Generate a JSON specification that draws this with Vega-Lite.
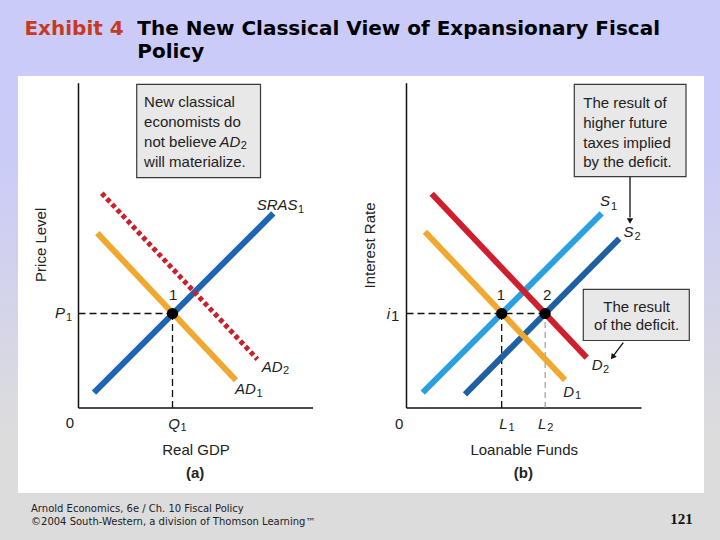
{
  "$schema": "https://vega.github.io/schema/vega-lite/v6.json",
  "width": 720,
  "height": 540,
  "autosize": {"type": "fit", "contains": "padding"},
  "padding": 0,
  "background": "#dcdcdc",
  "config": {"view": {"stroke": null}, "text": {"font": "Liberation Sans", "color": "#222222", "fontSize": 15, "baseline": "middle"}},
  "resolve": {"scale": {"x": "independent", "color": "independent"}},
  "layer": [
    {
      "encoding": {
        "x": {"field": "x", "type": "quantitative", "axis": null, "scale": {"domain": [-3.3404, 27.2979], "nice": false, "zero": false}},
        "y": {"field": "y", "type": "quantitative", "axis": null, "scale": {"domain": [-4.1905, 12.9524], "nice": false, "zero": false}}
      },
      "layer": [
        {
          "data": {"values": [{"x": -3.3404, "x2": 27.2979, "y": -4.1905, "y2": 12.9524}]},
          "mark": {"type": "rect", "fill": {"gradient": "linear", "x1": 0, "y1": 0, "x2": 0, "y2": 1, "stops": [{"offset": 0, "color": "#cbcbfa"}, {"offset": 0.3, "color": "#cbcbf8"}, {"offset": 0.8, "color": "#dcdcdc"}, {"offset": 1, "color": "#dcdcdc"}]}},
          "encoding": {"x2": {"field": "x2"}, "y2": {"field": "y2"}}
        },
        {
          "data": {"values": [{"x": -2.574, "x2": 26.617, "y": -2.698, "y2": 10.54}]},
          "mark": {"type": "rect", "fill": "#ffffff"},
          "encoding": {"x2": {"field": "x2"}, "y2": {"field": "y2"}}
        },
        {
          "data": {"values": [{"x": 2.477, "x2": 7.745, "y": 7.311, "y2": 10.276}]},
          "mark": {"type": "rect", "fill": "#e8e8e8", "stroke": "#3a3a3a", "strokeWidth": 1.2},
          "encoding": {"x2": {"field": "x2"}, "y2": {"field": "y2"}}
        },
        {
          "data": {"values": [{"x": 0, "y": 0, "x2": 0, "y2": 10.31}, {"x": 0, "y": 0, "x2": 9.98, "y2": 0}]},
          "mark": {"type": "rule", "color": "#111111", "strokeWidth": 1.5},
          "encoding": {"x2": {"field": "x2"}, "y2": {"field": "y2"}}
        },
        {
          "data": {"values": [{"x": 0, "y": 3, "x2": 4, "y2": 3}, {"x": 4, "y": 0, "x2": 4, "y2": 3}]},
          "mark": {"type": "rule", "color": "#111111", "strokeWidth": 1.3, "strokeDash": [7, 4]},
          "encoding": {"x2": {"field": "x2"}, "y2": {"field": "y2"}}
        },
        {
          "data": {"values": [{"curve": "SRAS1", "x": 0.66, "y": 0.49, "x2": 8.29, "y2": 6.18}, {"curve": "AD1", "x": 0.8, "y": 5.55, "x2": 6.7, "y2": 0.88}]},
          "mark": {"type": "rule", "strokeWidth": 6, "strokeCap": "butt"},
          "encoding": {"x2": {"field": "x2"}, "y2": {"field": "y2"}, "color": {"field": "curve", "type": "nominal", "legend": null, "scale": {"domain": ["SRAS1", "AD1"], "range": ["#1f66b0", "#f0a830"]}}}
        },
        {
          "data": {"values": [{"curve": "AD2", "x": 0.99, "y": 6.82, "x2": 7.61, "y2": 1.55}]},
          "mark": {"type": "rule", "strokeWidth": 5, "strokeDash": [4.5, 3], "color": "#c8202c", "strokeCap": "butt"},
          "encoding": {"x2": {"field": "x2"}, "y2": {"field": "y2"}}
        },
        {
          "data": {"values": [{"x": 4, "y": 3}]},
          "mark": {"type": "circle", "size": 125, "color": "#000000", "opacity": 1}
        },
        {
          "data": {"values": [{"t": "1", "x": 4.03, "y": 3.59}, {"t": "0", "x": -0.36, "y": -0.49}, {"t": "Real GDP", "x": 5.0, "y": -1.33}]},
          "mark": {"type": "text", "align": "center"},
          "encoding": {"text": {"field": "t"}}
        },
        {
          "data": {"values": [{"t": "(a)", "x": 4.96, "y": -2.05}]},
          "mark": {"type": "text", "align": "center", "fontWeight": "bold"},
          "encoding": {"text": {"field": "t"}}
        },
        {
          "data": {"values": [{"t": "Price Level", "x": -1.6, "y": 5.18}]},
          "mark": {"type": "text", "align": "center", "angle": 270},
          "encoding": {"text": {"field": "t"}}
        },
        {
          "data": {"values": [{"t": "P", "x": -1.0, "y": 3.02}, {"t": "Q", "x": 3.82, "y": -0.51}, {"t": "SRAS", "x": 7.58, "y": 6.44}, {"t": "AD", "x": 7.8, "y": 1.31}, {"t": "AD", "x": 6.66, "y": 0.59}, {"t": "AD", "x": 6.0, "y": 8.45}]},
          "mark": {"type": "text", "align": "left", "fontStyle": "italic"},
          "encoding": {"text": {"field": "t"}}
        },
        {
          "data": {"values": [{"t": "1", "x": -0.53, "y": 2.86}, {"t": "1", "x": 4.34, "y": -0.64}, {"t": "1", "x": 9.34, "y": 6.29}, {"t": "2", "x": 8.7, "y": 1.18}, {"t": "1", "x": 7.57, "y": 0.44}, {"t": "2", "x": 6.9, "y": 8.32}]},
          "mark": {"type": "text", "align": "left", "fontSize": 11},
          "encoding": {"text": {"field": "t"}}
        },
        {
          "data": {"values": [{"t": "New classical", "x": 2.79, "y": 9.71}, {"t": "economists do", "x": 2.79, "y": 9.07}, {"t": "not believe", "x": 2.79, "y": 8.45}, {"t": "will materialize.", "x": 2.79, "y": 7.82}]},
          "mark": {"type": "text", "align": "left"},
          "encoding": {"text": {"field": "t"}}
        },
        {
          "data": {"values": [{"t": "Exhibit 4", "x": -2.3, "y": 11.84}]},
          "mark": {"type": "text", "align": "left", "baseline": "alphabetic", "font": "DejaVu Sans", "fontWeight": "bold", "fontSize": 20, "color": "#c63a1f"},
          "encoding": {"text": {"field": "t"}}
        },
        {
          "data": {"values": [{"t": "The New Classical View of Expansionary Fiscal", "x": 2.5, "y": 11.84}, {"t": "Policy", "x": 2.5, "y": 11.1}]},
          "mark": {"type": "text", "align": "left", "baseline": "alphabetic", "font": "DejaVu Sans", "fontWeight": "bold", "fontSize": 20, "color": "#000000"},
          "encoding": {"text": {"field": "t"}}
        },
        {
          "data": {"values": [{"t": "Arnold Economics, 6e / Ch. 10 Fiscal Policy", "x": -2.02, "y": -3.31}, {"t": "©2004 South-Western, a division of Thomson Learning™", "x": -2.02, "y": -3.71}]},
          "mark": {"type": "text", "align": "left", "baseline": "alphabetic", "font": "DejaVu Sans", "fontSize": 10, "color": "#222222"},
          "encoding": {"text": {"field": "t"}}
        },
        {
          "data": {"values": [{"t": "121", "x": 26.14, "y": -3.69}]},
          "mark": {"type": "text", "align": "right", "baseline": "alphabetic", "font": "Liberation Serif", "fontWeight": "bold", "fontSize": 15, "color": "#111111"},
          "encoding": {"text": {"field": "t"}}
        }
      ]
    },
    {
      "encoding": {
        "x": {"field": "x", "type": "quantitative", "axis": null, "scale": {"domain": [-17.2979, 13.3404], "nice": false, "zero": false}},
        "y": {"field": "y", "type": "quantitative", "axis": null, "scale": {"domain": [-4.1905, 12.9524], "nice": false, "zero": false}}
      },
      "layer": [
        {
          "data": {"values": [{"x": 7.14, "x2": 11.894, "y": 7.343, "y2": 10.276}, {"x": 7.523, "x2": 12.034, "y": 2.143, "y2": 3.768}]},
          "mark": {"type": "rect", "fill": "#e8e8e8", "stroke": "#3a3a3a", "strokeWidth": 1.2},
          "encoding": {"x2": {"field": "x2"}, "y2": {"field": "y2"}}
        },
        {
          "data": {"values": [{"x": 0, "y": 0, "x2": 0, "y2": 10.31}, {"x": 0, "y": 0, "x2": 10.0, "y2": 0}]},
          "mark": {"type": "rule", "color": "#111111", "strokeWidth": 1.5},
          "encoding": {"x2": {"field": "x2"}, "y2": {"field": "y2"}}
        },
        {
          "data": {"values": [{"x": 0, "y": 3, "x2": 5.9, "y2": 3}, {"x": 4.05, "y": 0, "x2": 4.05, "y2": 3}]},
          "mark": {"type": "rule", "color": "#111111", "strokeWidth": 1.3, "strokeDash": [7, 4]},
          "encoding": {"x2": {"field": "x2"}, "y2": {"field": "y2"}}
        },
        {
          "data": {"values": [{"x": 5.9, "y": 0, "x2": 5.9, "y2": 3}]},
          "mark": {"type": "rule", "color": "#888888", "strokeWidth": 1, "strokeDash": [6, 4]},
          "encoding": {"x2": {"field": "x2"}, "y2": {"field": "y2"}}
        },
        {
          "data": {"values": [{"curve": "S1", "x": 0.689, "y": 0.486, "x2": 8.306, "y2": 6.181}, {"curve": "S2", "x": 2.489, "y": 0.435, "x2": 9.055, "y2": 5.378}, {"curve": "D1", "x": 0.787, "y": 5.597, "x2": 6.745, "y2": 0.889}, {"curve": "D2", "x": 1.072, "y": 6.8, "x2": 7.668, "y2": 1.6}]},
          "mark": {"type": "rule", "strokeWidth": 6, "strokeCap": "butt"},
          "encoding": {"x2": {"field": "x2"}, "y2": {"field": "y2"}, "color": {"field": "curve", "type": "nominal", "legend": null, "scale": {"domain": ["S1", "S2", "D1", "D2"], "range": ["#2aa0e2", "#1f5fa3", "#f0a830", "#cf1f2e"]}}}
        },
        {
          "data": {"values": [{"x": 9.511, "y": 7.343, "x2": 9.511, "y2": 6.05}, {"x": 9.226, "y": 2.073, "x2": 8.79, "y2": 1.65}]},
          "mark": {"type": "rule", "color": "#111111", "strokeWidth": 1.3},
          "encoding": {"x2": {"field": "x2"}, "y2": {"field": "y2"}}
        },
        {
          "data": {"values": [{"x": 9.511, "y": 5.94}]},
          "mark": {"type": "point", "shape": "triangle-down", "filled": true, "size": 40, "color": "#111111", "opacity": 1}
        },
        {
          "data": {"values": [{"x": 8.77, "y": 1.62}]},
          "mark": {"type": "point", "shape": "triangle-down", "filled": true, "size": 40, "angle": 37, "color": "#111111", "opacity": 1}
        },
        {
          "data": {"values": [{"x": 4.05, "y": 3}, {"x": 5.9, "y": 3}]},
          "mark": {"type": "circle", "size": 125, "color": "#000000", "opacity": 1}
        },
        {
          "data": {"values": [{"t": "1", "x": 4.02, "y": 3.59}, {"t": "2", "x": 5.99, "y": 3.59}, {"t": "0", "x": -0.31, "y": -0.51}, {"t": "Loanable Funds", "x": 5.01, "y": -1.33}, {"t": "1", "x": -0.48, "y": 2.92}]},
          "mark": {"type": "text", "align": "center"},
          "encoding": {"text": {"field": "t"}}
        },
        {
          "data": {"values": [{"t": "(b)", "x": 4.97, "y": -2.05}]},
          "mark": {"type": "text", "align": "center", "fontWeight": "bold"},
          "encoding": {"text": {"field": "t"}}
        },
        {
          "data": {"values": [{"t": "Interest Rate", "x": -1.56, "y": 5.16}]},
          "mark": {"type": "text", "align": "center", "angle": 270},
          "encoding": {"text": {"field": "t"}}
        },
        {
          "data": {"values": [{"t": "i", "x": -0.84, "y": 2.98}, {"t": "L", "x": 3.95, "y": -0.51}, {"t": "L", "x": 5.6, "y": -0.51}, {"t": "S", "x": 8.23, "y": 6.57}, {"t": "S", "x": 9.23, "y": 5.6}, {"t": "D", "x": 7.88, "y": 1.37}, {"t": "D", "x": 6.67, "y": 0.52}]},
          "mark": {"type": "text", "align": "left", "fontStyle": "italic"},
          "encoding": {"text": {"field": "t"}}
        },
        {
          "data": {"values": [{"t": "1", "x": 4.34, "y": -0.64}, {"t": "2", "x": 5.99, "y": -0.64}, {"t": "1", "x": 8.7, "y": 6.39}, {"t": "2", "x": 9.7, "y": 5.44}, {"t": "2", "x": 8.36, "y": 1.21}, {"t": "1", "x": 7.17, "y": 0.38}]},
          "mark": {"type": "text", "align": "left", "fontSize": 11},
          "encoding": {"text": {"field": "t"}}
        },
        {
          "data": {"values": [{"t": "The result of", "x": 7.52, "y": 9.67}, {"t": "higher future", "x": 7.52, "y": 9.04}, {"t": "taxes implied", "x": 7.52, "y": 8.42}, {"t": "by the deficit.", "x": 7.52, "y": 7.8}]},
          "mark": {"type": "text", "align": "left"},
          "encoding": {"text": {"field": "t"}}
        },
        {
          "data": {"values": [{"t": "The result", "x": 9.79, "y": 3.22}, {"t": "of the deficit.", "x": 9.79, "y": 2.64}]},
          "mark": {"type": "text", "align": "center"},
          "encoding": {"text": {"field": "t"}}
        }
      ]
    }
  ]
}
